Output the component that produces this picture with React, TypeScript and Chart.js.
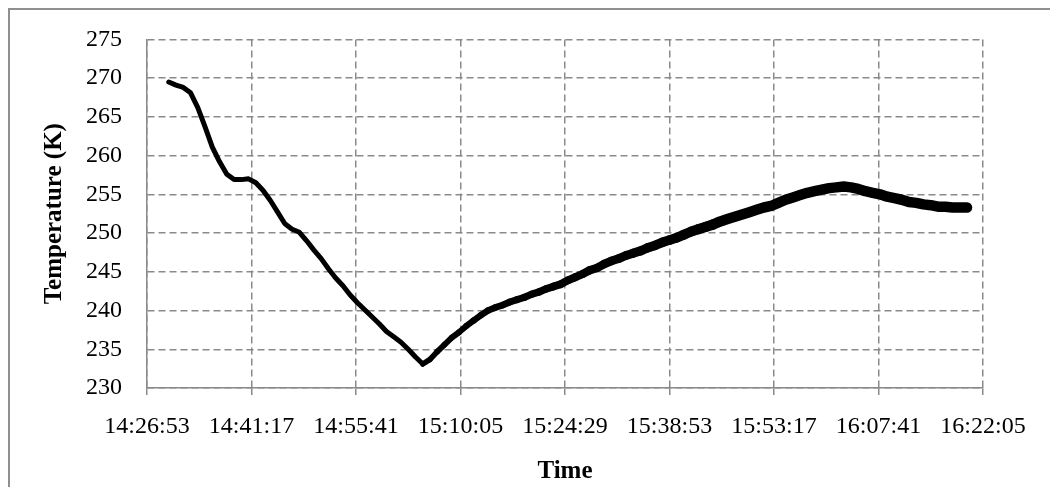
import React, { useEffect, useRef } from "react";
import { Chart, registerables } from "chart.js";

Chart.register(...registerables);

// ---- data ----
const START_TIME = "14:26:53";
const X_STEP_SECONDS = 864; // 14:24 between ticks
const X_TICK_INTERVALS = 8;
const Y_MIN = 230;
const Y_MAX = 275;
const Y_STEP = 5;
const X_TITLE = "Time";
const Y_TITLE = "Temperature (K)";

const times: string[] = [
  "14:29:53", "14:30:53", "14:31:53", "14:32:53", "14:33:53", "14:34:53", "14:35:53", "14:36:53", "14:37:53", "14:38:53",
  "14:39:53", "14:40:53", "14:41:53", "14:42:53", "14:43:53", "14:44:53", "14:45:53", "14:46:53", "14:47:53", "14:48:53",
  "14:49:53", "14:50:53", "14:51:53", "14:52:53", "14:53:53", "14:54:53", "14:55:53", "14:56:53", "14:57:53", "14:58:53",
  "14:59:53", "15:00:53", "15:01:53", "15:02:53", "15:03:53", "15:04:53", "15:05:53", "15:06:53", "15:07:53", "15:08:53",
  "15:09:53", "15:10:53", "15:11:53", "15:12:53", "15:13:53", "15:14:53", "15:15:53", "15:16:53", "15:17:53", "15:18:53",
  "15:19:53", "15:20:53", "15:21:53", "15:22:53", "15:23:53", "15:24:53", "15:25:53", "15:26:53", "15:27:53", "15:28:53",
  "15:29:53", "15:30:53", "15:31:53", "15:32:53", "15:33:53", "15:34:53", "15:35:53", "15:36:53", "15:37:53", "15:38:53",
  "15:39:53", "15:40:53", "15:41:53", "15:42:53", "15:43:53", "15:44:53", "15:45:53", "15:46:53", "15:47:53", "15:48:53",
  "15:49:53", "15:50:53", "15:51:53", "15:52:53", "15:53:53", "15:54:53", "15:55:53", "15:56:53", "15:57:53", "15:58:53",
  "15:59:53", "16:00:53", "16:01:53", "16:02:53", "16:03:53", "16:04:53", "16:05:53", "16:06:53", "16:07:53", "16:08:53",
  "16:09:53", "16:10:53", "16:11:53", "16:12:53", "16:13:53", "16:14:53", "16:15:53", "16:16:53", "16:17:53", "16:18:53",
  "16:19:53",
];

const temperatures: number[] = [
  269.5, 269.1, 268.8, 268.1, 266.2, 263.7, 261.1, 259.2, 257.6, 256.9,
  256.9, 257.0, 256.5, 255.5, 254.2, 252.7, 251.2, 250.5, 250.1, 249.0,
  247.8, 246.7, 245.4, 244.2, 243.2, 242.0, 241.0, 240.1, 239.2, 238.3,
  237.3, 236.6, 235.9, 235.0, 234.0, 233.1, 233.7, 234.7, 235.6, 236.5,
  237.2, 238.0, 238.7, 239.4, 240.0, 240.4, 240.7, 241.1, 241.4, 241.7,
  242.1, 242.4, 242.8, 243.1, 243.4, 243.9, 244.3, 244.7, 245.2, 245.5,
  246.0, 246.4, 246.7, 247.1, 247.4, 247.7, 248.1, 248.4, 248.8, 249.1,
  249.4, 249.8, 250.2, 250.5, 250.8, 251.1, 251.5, 251.8, 252.1, 252.4,
  252.7, 253.0, 253.3, 253.5, 253.9, 254.3, 254.6, 254.9, 255.2, 255.4,
  255.6, 255.8, 255.9, 256.0, 255.9, 255.7, 255.4, 255.2, 255.0, 254.7,
  254.5, 254.3, 254.0, 253.9, 253.7, 253.6, 253.4, 253.4, 253.3, 253.3,
  253.3,
];

// ---- helpers ----
const toSeconds = (s: string) => {
  const [h, m, sec] = s.split(":").map(Number);
  return h * 3600 + m * 60 + sec;
};
const pad = (n: number) => String(n).padStart(2, "0");
const toClock = (total: number) => {
  const t = ((Math.round(total) % 86400) + 86400) % 86400;
  return `${Math.floor(t / 3600)}:${pad(Math.floor((t % 3600) / 60))}:${pad(t % 60)}`;
};

const T0 = toSeconds(START_TIME);

export default function App() {
  const canvasRef = useRef<HTMLCanvasElement | null>(null);

  useEffect(() => {
    document.documentElement.style.overflow = "hidden";
    document.body.style.overflow = "hidden";
    const canvas = canvasRef.current;
    if (!canvas) return;

    const points = times.map((t, i) => ({ x: toSeconds(t) - T0, y: temperatures[i] }));
    let minIdx = 0;
    temperatures.forEach((v, i) => {
      if (v < temperatures[minIdx]) minIdx = i;
    });
    const minX = points[minIdx].x;

    const serif = "'Liberation Serif', 'Times New Roman', serif";
    const gridColor = "#8a8a8a";

    const chart = new Chart(canvas, {
      type: "line",
      data: {
        datasets: [
          {
            data: points,
            borderColor: "#000000",
            borderWidth: 5,
            borderCapStyle: "round",
            borderJoinStyle: "round",
            pointRadius: 0,
            tension: 0,
            fill: false,
            segment: {
              borderWidth: (ctx: any) => {
                const x = ctx.p0.parsed.x;
                if (x < minX) return 5;
                return 5.5 + Math.min(1, (x - minX) / 2400) * 5;
              },
            },
          },
        ],
      },
      options: {
        animation: false,
        responsive: true,
        maintainAspectRatio: false,
        layout: { padding: { left: 0, right: 67, top: 36, bottom: 0 } },
        plugins: {
          legend: { display: false },
          tooltip: { enabled: false },
        },
        scales: {
          x: {
            type: "linear",
            min: 0,
            max: X_STEP_SECONDS * X_TICK_INTERVALS,
            afterFit: (s: any) => {
              s.height = 99;
            },
            ticks: {
              stepSize: X_STEP_SECONDS,
              autoSkip: false,
              maxRotation: 0,
              padding: 17,
              color: "#000000",
              font: { family: serif, size: 24 },
              callback: (v: any) => toClock(T0 + Number(v)),
            },
            grid: {
              color: gridColor,
              lineWidth: 1.5,
              drawTicks: true,
              tickLength: 7,
              tickColor: gridColor,
            },
            border: { display: true, color: gridColor, width: 1.5, dash: [7, 4] },
            title: {
              display: true,
              text: X_TITLE,
              color: "#000000",
              font: { family: serif, size: 25, weight: "bold" },
              padding: { top: 0, bottom: 0 },
            },
          },
          y: {
            type: "linear",
            min: Y_MIN,
            max: Y_MAX,
            afterFit: (s: any) => {
              s.width = 147;
            },
            ticks: {
              stepSize: Y_STEP,
              padding: 25,
              color: "#000000",
              font: { family: serif, size: 24 },
            },
            grid: {
              color: gridColor,
              lineWidth: 1.5,
              drawTicks: false,
            },
            border: { display: true, color: gridColor, width: 1.5, dash: [7, 4] },
            title: {
              display: true,
              text: Y_TITLE,
              color: "#000000",
              font: { family: serif, size: 25, weight: "bold" },
              padding: { top: 40, bottom: 0 },
            },
          },
        },
      },
    });

    return () => chart.destroy();
  }, []);

  return (
    <div
      style={{
        position: "fixed",
        left: 0,
        top: 0,
        width: 1050,
        height: 487,
        overflow: "hidden",
        background: "#ffffff",
      }}
    >
      <div
        style={{
          position: "absolute",
          left: 8,
          top: 8,
          width: 1100,
          height: 600,
          border: "2px solid #8f8f8f",
          boxSizing: "border-box",
        }}
      />
      <div style={{ position: "absolute", left: 0, top: 0, width: 1050, height: 487 }}>
        <canvas ref={canvasRef} />
      </div>
    </div>
  );
}
